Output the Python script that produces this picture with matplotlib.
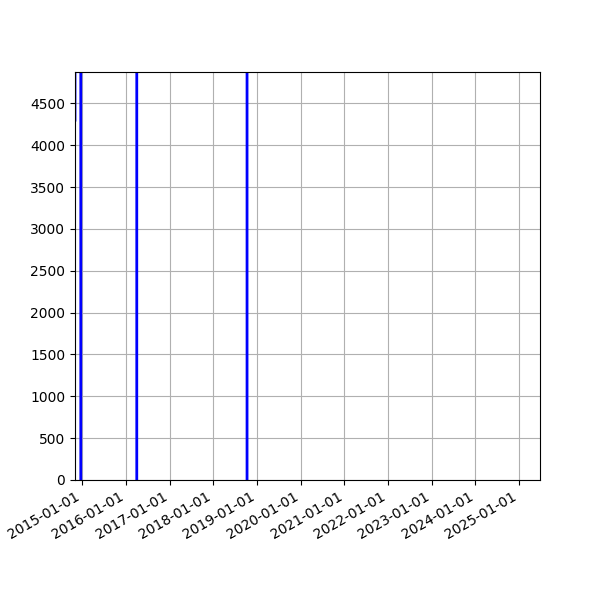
import matplotlib
matplotlib.use("Agg")
import matplotlib.pyplot as plt
import matplotlib.dates as mdates
from matplotlib.ticker import MultipleLocator
import pandas as pd

# readings, huge values run off the top/bottom of the visible window
dates = ["2014-11-01", "2014-11-02", "2014-12-19", "2014-12-20",
         "2016-03-31", "2016-04-01", "2018-10-09", "2018-10-10",
         "2025-06-24"]
values = [4300, 1e6, 1e6, -1e6, -1e6, 1e6, 1e6, -1e6, -1e6]

y_top = 4875

x = pd.to_datetime(dates)

fig, ax = plt.subplots(figsize=(6, 6), dpi=100)
ax.plot(x, values, color="blue", linewidth=2)

ax.set_xlim(x[0], x[-1])
ax.set_ylim(0, y_top)
ax.yaxis.set_major_locator(MultipleLocator(500))
ax.xaxis.set_major_locator(mdates.YearLocator())
ax.xaxis.set_major_formatter(mdates.DateFormatter("%Y-%m-%d"))
ax.grid(True)
fig.autofmt_xdate()

fig.savefig("out.png")
